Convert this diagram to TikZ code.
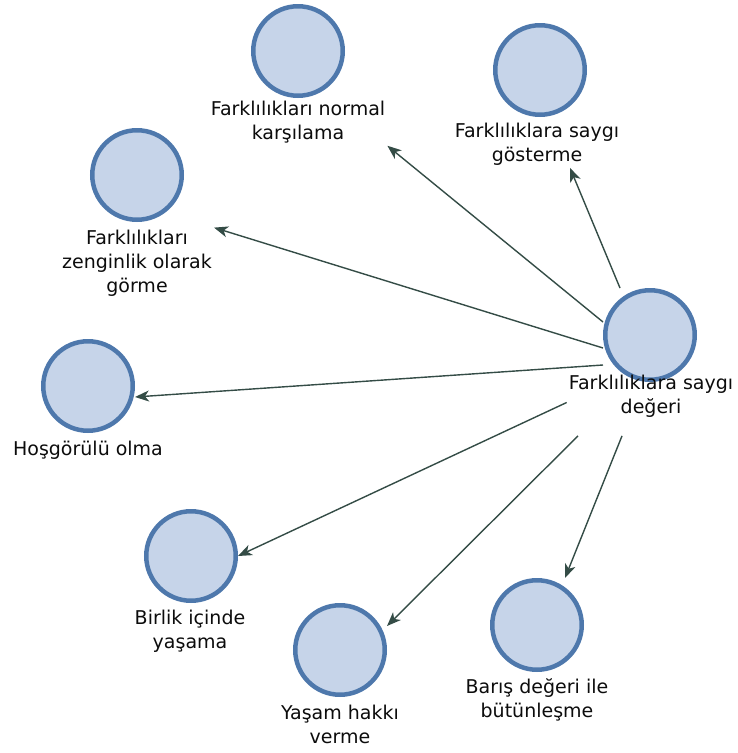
\documentclass[tikz,border=0pt]{standalone}
\usepackage{fontspec}
\setmainfont{DejaVu Sans}
\usepackage{tikz, xcolor}
\usetikzlibrary{arrows.meta}

\definecolor{ringblue}{RGB}{78,120,172}
\definecolor{fillblue}{RGB}{198,212,233}
\definecolor{arrowgreen}{RGB}{52,76,70}
\definecolor{textgray}{RGB}{12,12,12}

\begin{document}
\begin{tikzpicture}[x=1pt, y=-1pt,
    item/.style={circle, draw=ringblue, fill=fillblue, line width=4.5pt, minimum size=89.5pt, inner sep=0pt},
    lbl/.style={align=center, inner sep=2pt, text=textgray, font=\fontsize{19}{24}\selectfont},
    arr/.style={color=arrowgreen, line width=1.4pt, -{Stealth[length=14pt, width=11pt, inset=4pt]}}]
    \useasboundingbox (0, 0) rectangle (737, 753);

    \foreach \name/\x/\y in {hub/650/335, normal/298/51, saygi/540/70, zengin/137/175,
      hosgoru/88/386, birlik/191/556, yasam/340/650, baris/537/625}
    {
      \node [item] (\name) at (\x, \y) {};
    }

    \node [lbl] (hub-txt) at (651, 396.5) {Farklılıklara saygı\\değeri};
    \node [lbl] (normal-txt) at (298, 122.5) {Farklılıkları normal\\karşılama};
    \node [lbl] (saygi-txt) at (537, 144.5) {Farklılıklara saygı\\gösterme};
    \node [lbl] (zengin-txt) at (137, 263) {Farklılıkları\\zenginlik olarak\\görme};
    \node [lbl] (hosgoru-txt) at (88, 450) {Hoşgörülü olma};
    \node [lbl] (birlik-txt) at (190, 631.5) {Birlik içinde\\yaşama};
    \node [lbl] (yasam-txt) at (340, 724.5) {Yaşam hakkı\\verme};
    \node [lbl] (baris-txt) at (537, 700) {Barış değeri ile\\bütünleşme};

    \draw [arr] ([yshift=13pt]hub.west) to (normal-txt.south east);
    \draw [arr] ([xshift=-30pt]hub.north) to ([xshift=33pt]saygi-txt.south);
    \draw [arr] ([yshift=-13pt]hub.west) to (zengin-txt.north east);
    \draw [arr] ([yshift=-30pt]hub.west) to ([yshift=-11pt]hosgoru.east);
    \draw [arr] ([yshift=-6pt]hub-txt.west) to (birlik.east);
    \draw [arr] ([xshift=-73pt, yshift=-16pt]hub-txt.south) to ([yshift=24pt]yasam.east);
    \draw [arr] ([xshift=-29pt, yshift=-16pt]hub-txt.south) to ([xshift=28pt]baris.north);

  \end{tikzpicture}
\end{document}
